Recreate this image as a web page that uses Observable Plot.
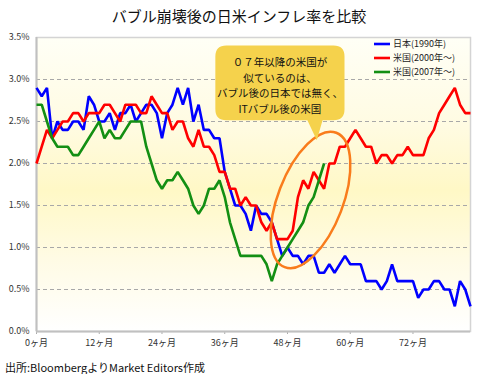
<!DOCTYPE html>
<html>
<head>
<meta charset="utf-8">
<script src="https://cdn.jsdelivr.net/npm/d3@7"></script>
<script src="https://cdn.jsdelivr.net/npm/@observablehq/plot@0.6"></script>
<style>
  body { margin: 0; background: #fff; font-family: "Noto Sans CJK JP", "Noto Sans", sans-serif; }
  #title { height: 32px; line-height: 32px; text-align: center; font-size: 15px; color: #111; }
  #chart svg { display: block; }
  #cap { font-size: 11px; line-height: 14px; margin: 7px 0 0 5px; color: #111; }
  g[aria-label="x-axis tick"] path { stroke: #aaa; }
</style>
</head>
<body>
<div id="title"></div>
<div id="chart"></div>
<div id="cap"></div>
<script>
const titleText = "バブル崩壊後の日米インフレ率を比較";
const captionText = "出所:BloombergよりMarket Editors作成";
const seriesNames = ["日本(1990年)", "米国(2000年〜)", "米国(2007年〜)"];
const seriesColors = ["#0000ff", "#ff0000", "#138f13"];
const calloutLines = ["０７年以降の米国が", "似ているのは、", "バブル後の日本では無く、", "ITバブル後の米国"];
const xTicks = [0, 12, 24, 36, 48, 60, 72];
const yTicks = [0, 0.5, 1.0, 1.5, 2.0, 2.5, 3.0, 3.5];

// monthly inflation (%) from the start of each period
const japan = [2.9,2.8,2.9,2.3,2.5,2.4,2.4,2.5,2.5,2.4,2.8,2.7,2.5,2.5,2.6,2.4,2.6,2.6,2.7,2.5,2.6,2.7,2.7,2.6,
  2.3,2.6,2.7,2.9,2.7,2.9,2.5,2.7,2.4,2.4,2.3,2.3,
  1.9,1.7,1.5,1.5,1.4,1.2,1.5,1.4,1.4,1.3,1.1,0.9,1.0,0.9,0.9,
  0.8,0.9,0.9,0.7,0.7,0.8,0.7,0.8,0.9,0.8,0.8,0.8,0.6,0.6,0.6,0.5,0.6,0.8,0.6,0.6,0.6,0.6,0.4,0.5,0.5,0.6,0.6,0.5,0.5,0.3,0.6,0.5,0.3];
const us2000 = [2.0,2.2,2.4,2.3,2.4,2.5,2.5,2.6,2.6,2.5,2.6,2.6,2.6,2.7,2.7,2.6,2.5,2.7,2.7,2.7,2.6,2.6,2.8,2.7,
  2.6,2.6,2.4,2.5,2.5,2.3,2.2,2.4,2.2,2.2,2.1,1.9,
  1.9,1.7,1.7,1.5,1.6,1.5,1.5,1.3,1.2,1.3,1.1,1.1,1.1,1.2,
  1.6,1.8,1.7,1.9,1.8,1.7,2.0,2.0,2.2,2.2,2.3,2.4,2.3,2.2,2.2,2.0,2.1,
  2.1,2.0,2.1,2.1,2.2,2.1,2.1,2.1,2.3,2.4,2.6,2.7,2.8,2.9,2.7,2.6,2.6];
const us2007 = [2.7,2.7,2.5,2.3,2.2,2.2,2.2,2.1,2.1,2.2,2.3,2.4,2.5,2.3,2.4,2.3,2.3,2.4,2.5,2.5,2.5,
  2.2,2.0,1.8,1.7,1.8,1.8,1.9,1.8,1.7,1.5,1.4,1.5,1.7,1.7,1.8,
  1.6,1.3,1.1,0.9,0.9,0.9,0.9,0.9,0.8,0.6,0.8,0.9,1.0,1.1,1.2,1.3,1.5,1.6,1.8,2.0];

const seriesData = [japan, us2000, us2007];
const rows = seriesData.flatMap((arr, k) => arr.map((v, i) => ({month: i, value: v, series: seriesNames[k]})));

document.getElementById("title").textContent = titleText;
document.getElementById("cap").textContent = captionText;

const fontFamily = '"Noto Sans CJK JP", "Noto Sans", sans-serif';

const plot = Plot.plot({
  width: 478,
  height: 321,
  marginLeft: 36,
  marginRight: 8,
  marginTop: 5,
  marginBottom: 22,
  style: {fontFamily, fontSize: "9px", color: "#333", background: "transparent", overflow: "visible"},
  x: {domain: [0, 83], ticks: xTicks, tickFormat: d => d + "ヶ月", tickSize: 3, tickPadding: 5, label: null},
  y: {domain: [0, 3.5], ticks: yTicks, tickFormat: d => d.toFixed(1) + "%", tickSize: 0, tickPadding: 7, label: null},
  color: {domain: seriesNames, range: seriesColors},
  marks: [
    Plot.frame({fill: "url(#bgGrad)", stroke: "#d4d4d4", strokeWidth: 1.5}),
    Plot.ruleY(yTicks.filter(t => t > 0 && t < 3.5), {stroke: "#a8a8a8", strokeDasharray: "4,3", strokeWidth: 1}),
    Plot.ruleX([0], {stroke: "#c0c0c0", strokeWidth: 2}),
    Plot.ruleY([0], {stroke: "#c0c0c0", strokeWidth: 2}),
    Plot.line(rows, {x: "month", y: "value", z: "series", stroke: "series", strokeWidth: 2.6, strokeLinejoin: "miter", strokeLinecap: "butt"})
  ]
});
document.getElementById("chart").appendChild(plot);

const svg = d3.select(plot);
const sx = plot.scale("x"), sy = plot.scale("y");
const X = d3.scaleLinear(sx.domain, sx.range);
const Y = d3.scaleLinear(sy.domain, sy.range);

// background gradient
const grad = svg.insert("defs", ":first-child").append("linearGradient")
  .attr("id", "bgGrad").attr("x1", 0).attr("y1", 0).attr("x2", 0).attr("y2", 1);
[[0, "#fffff6"], [0.3, "#fffbe2"], [0.52, "#fff8c6"], [0.75, "#fffbe4"], [1, "#ffffff"]]
  .forEach(([o, c]) => grad.append("stop").attr("offset", o).attr("stop-color", c));

const ann = svg.append("g");

// orange ellipse around the 2007~ rebound (data coords of its centre)
const ell = {month: 52.5, value: 1.56};
ann.append("ellipse")
  .attr("cx", X(ell.month)).attr("cy", Y(ell.value))
  .attr("rx", 32.5).attr("ry", 72)
  .attr("transform", `rotate(21 ${X(ell.month)} ${Y(ell.value)})`)
  .attr("fill", "none").attr("stroke", "#f97c1c").attr("stroke-width", 2.5);

// callout box
const box = {m0: 34.3, m1: 59.0, v0: 3.40, v1: 2.51, tipM: 53.7, tipV: 2.27, baseM0: 51.9, baseM1: 54.8};
const bx0 = X(box.m0), bx1 = X(box.m1), by0 = Y(box.v0), by1 = Y(box.v1), r = 11;
const path = d3.path();
path.moveTo(bx0 + r, by0);
path.lineTo(bx1 - r, by0);
path.quadraticCurveTo(bx1, by0, bx1, by0 + r);
path.lineTo(bx1, by1 - r);
path.quadraticCurveTo(bx1, by1, bx1 - r, by1);
path.lineTo(X(box.baseM1), by1);
path.lineTo(X(box.tipM), Y(box.tipV));
path.lineTo(X(box.baseM0), by1);
path.lineTo(bx0 + r, by1);
path.quadraticCurveTo(bx0, by1, bx0, by1 - r);
path.lineTo(bx0, by0 + r);
path.quadraticCurveTo(bx0, by0, bx0 + r, by0);
path.closePath();
ann.append("path").attr("d", path.toString()).attr("fill", "#f5d24c");
const cx = (bx0 + bx1) / 2;
calloutLines.forEach((t, i) => {
  ann.append("text").attr("x", cx).attr("y", by0 + 17 + i * 15.5)
    .attr("text-anchor", "middle").attr("dy", "0.35em")
    .attr("font-family", fontFamily).attr("font-size", "10.5px").attr("fill", "#111").text(t);
});

// legend
const leg = svg.append("g");
const lx = X(0) + 338;
seriesNames.forEach((name, i) => {
  const ly = 12 + i * 14;
  leg.append("line").attr("x1", lx).attr("x2", lx + 16).attr("y1", ly).attr("y2", ly)
    .attr("stroke", seriesColors[i]).attr("stroke-width", 2.6);
  leg.append("text").attr("x", lx + 19).attr("y", ly).attr("dy", "0.35em")
    .attr("text-anchor", "start")
    .attr("font-family", fontFamily).attr("font-size", "9px").attr("fill", "#222").text(name);
});
</script>
</body>
</html>
